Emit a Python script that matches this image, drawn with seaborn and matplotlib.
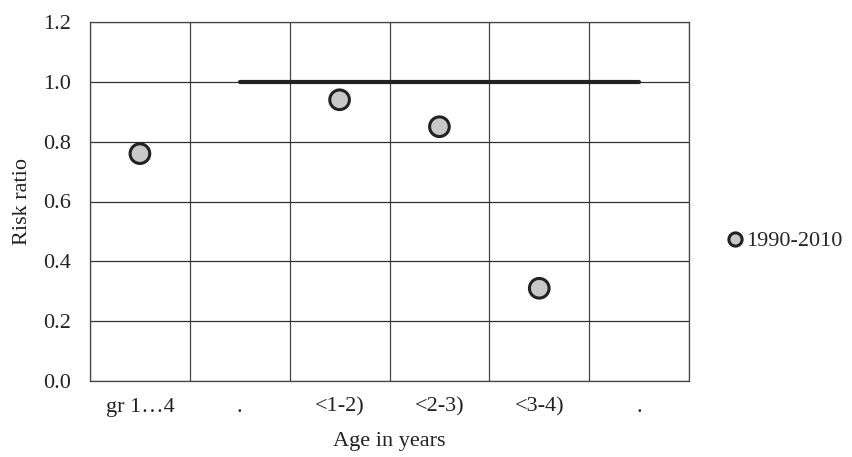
import matplotlib
matplotlib.use("Agg")
import matplotlib.pyplot as plt
import seaborn as sns
import pandas as pd
import numpy as np

categories = ["gr 1\u20264", ".", "<1-2)", "<2-3)", "<3-4)", "."]
point_cats = [0, 2, 3, 4]
point_values = [0.76, 0.94, 0.85, 0.31]
ref_line_cats = [1, 5]
ref_line_values = [1.0, 1.0]
series_name = "1990-2010"

sns.set_theme(style="white")
plt.rcParams['font.family'] = ['Liberation Serif', 'DejaVu Serif']

FS = 16

fig = plt.figure(figsize=(8.53, 4.57), dpi=100)
ax = fig.add_axes([90/853, 1 - 381/457, (689-90)/853, (381-22)/457])

df = pd.DataFrame({"x": point_cats, "y": point_values, "series": series_name})
line_df = pd.DataFrame({"x": ref_line_cats, "y": ref_line_values})

sns.lineplot(data=line_df, x="x", y="y", ax=ax, color="#222222", lw=3,
             solid_capstyle="round", legend=False, zorder=3)
sns.scatterplot(data=df, x="x", y="y", hue="series", palette=["#c8c8c8"],
                s=200, edgecolor="#222222", linewidth=2.2, ax=ax, zorder=4,
                legend=False)

ax.set_xlim(-0.5, len(categories) - 0.5)
ax.set_ylim(0, 1.2)
ax.set_yticks(np.arange(0, 1.21, 0.2))
ax.set_yticklabels([f"{v:.1f}" for v in np.arange(0, 1.21, 0.2)], fontsize=FS)
ax.set_xticks(range(len(categories)))
ax.set_xticklabels(categories, fontsize=FS)
ax.set_xticks(np.arange(-0.5, len(categories), 1), minor=True)
ax.tick_params(axis="both", which="both", length=0, colors="#222222")
ax.tick_params(axis="y", pad=14)
ax.tick_params(axis="x", pad=12)
ax.grid(True, which="minor", axis="x", color="#444444", lw=0.9)
ax.grid(True, which="major", axis="y", color="#333333", lw=0.9)
ax.grid(False, which="major", axis="x")
for s in ax.spines.values():
    s.set_color("#444444")
    s.set_linewidth(0.9)

ax.set_xlabel("Age in years", fontsize=FS, color="#222222", labelpad=11)
ax.set_ylabel("Risk ratio", fontsize=FS, color="#222222", labelpad=8)

handle = plt.Line2D([], [], marker="o", linestyle="none", markersize=9.5,
                    markerfacecolor="#c8c8c8", markeredgecolor="#222222",
                    markeredgewidth=2.2)
ax.legend([handle], [series_name], loc="center left",
          bbox_to_anchor=(713/853, 1 - 241/457),
          bbox_transform=fig.transFigure, frameon=False, fontsize=FS,
          handletextpad=0.0, borderpad=0, handlelength=1.0)

fig.savefig("out.png", dpi=100)
